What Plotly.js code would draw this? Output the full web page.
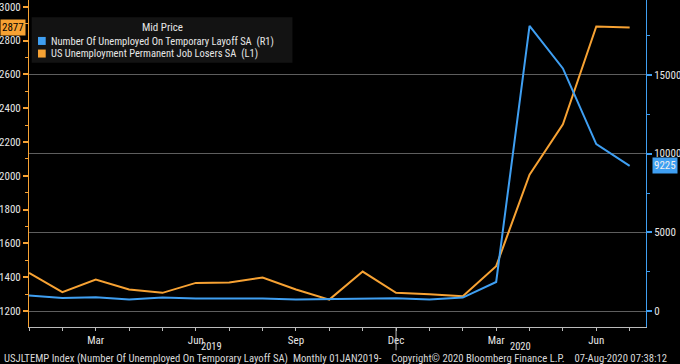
<!DOCTYPE html>
<html><head><meta charset="utf-8">
<script src="https://cdn.plot.ly/plotly-3.0.1.min.js"></script>
<style>html,body{margin:0;padding:0;background:#000;}#chart{width:680px;height:364px;}</style>
</head><body><div id="chart"></div>
<script>
// Data (monthly, Jan 2019 - Jul 2020)
const months = ['2019-01','2019-02','2019-03','2019-04','2019-05','2019-06','2019-07','2019-08','2019-09','2019-10','2019-11','2019-12',
                '2020-01','2020-02','2020-03','2020-04','2020-05','2020-06','2020-07'];
const monthLabels = ['','','Mar','','','Jun','','','Sep','','','Dec','','','Mar','','','Jun',''];
// Number of unemployed on temporary layoff SA (thousands) - right axis
const tempLayoff = [996,844,888,742,868,804,804,804,742,761,780,825,742,868,1860,18100,15400,10600,9225];
// US unemployment permanent job losers SA (thousands) - left axis
const permLosers = [1425,1311,1386,1327,1307,1366,1368,1398,1327,1267,1433,1307,1299,1287,1465,2006,2305,2883,2877];
const leftTicks = [1200,1400,1600,1800,2000,2200,2400,2600,2800,3000];
const rightTicks = [0,5000,10000,15000];
const rightTickText = ['0','5000','10000','15000'];
const seriesNames = ['Number Of Unemployed On Temporary Layoff SA  (R1)','US Unemployment Permanent Job Losers SA  (L1)'];

const BLUE = '#3f9ff2', ORANGE = '#f7a233', TXT = '#e6e6e6';
const FONT = '"Liberation Sans Narrow", "Roboto Condensed", Roboto, "DejaVu Sans", sans-serif';

const traces = [
  {x: months, y: tempLayoff, yaxis: 'y2', type: 'scatter', mode: 'lines', line: {color: BLUE, width: 2}, name: seriesNames[0], showlegend: false, hoverinfo: 'skip'},
  {x: months, y: permLosers, yaxis: 'y', type: 'scatter', mode: 'lines', line: {color: ORANGE, width: 2}, name: seriesNames[1], showlegend: false, hoverinfo: 'skip'}
];

const lastL = permLosers[permLosers.length-1];
const lastR = tempLayoff[tempLayoff.length-1];

const layout = {
  width: 680, height: 364,
  paper_bgcolor: '#000', plot_bgcolor: '#000',
  margin: {l: 29, r: 34, t: 0, b: 37},
  font: {family: FONT, size: 11, color: TXT},
  showlegend: false,
  xaxis: {
    type: 'category', range: [0, 18.49],
    tickmode: 'array', tickvals: months, ticktext: monthLabels,
    ticks: 'outside', ticklen: 3, tickcolor: '#bbbbbb',
    showline: true, linecolor: '#bbbbbb', linewidth: 1,
    showgrid: false, zeroline: false,
    tickfont: {family: FONT, size: 11, color: TXT}
  },
  yaxis: {
    range: [1105, 3040], side: 'left',
    tickmode: 'array', tickvals: leftTicks,
    ticks: 'outside', ticklen: 5, tickwidth: 2, tickcolor: ORANGE,
    minor: {dtick: 100, ticks: 'outside', ticklen: 3, tickcolor: ORANGE, tickwidth: 1, showgrid: false},
    showline: true, linecolor: ORANGE, linewidth: 1,
    showgrid: false, zeroline: false,
    tickfont: {family: FONT, size: 11, color: TXT}
  },
  yaxis2: {
    range: [-996, 19740], side: 'right', overlaying: 'y',
    tickmode: 'array', tickvals: rightTicks, ticktext: rightTickText,
    ticks: 'outside', ticklen: 5, tickwidth: 2, tickcolor: BLUE,
    minor: {dtick: 2500, ticks: 'outside', ticklen: 3, tickcolor: BLUE, tickwidth: 1, showgrid: false},
    showline: true, linecolor: BLUE, linewidth: 1,
    showgrid: true, gridcolor: '#5e5e5e', gridwidth: 1, zeroline: false,
    tickfont: {family: FONT, size: 11, color: TXT}
  },
  annotations: [
    // legend
    {xref: 'paper', yref: 'paper', x: 0.217, y: 0.9158, text: 'Mid Price', showarrow: false, xanchor: 'center', yanchor: 'middle',
     font: {family: FONT, size: 11, color: TXT}},
    {xref: 'paper', yref: 'paper', x: 0.0325, y: 0.8745, text: seriesNames[0], showarrow: false, xanchor: 'left', yanchor: 'middle',
     font: {family: FONT, size: 10.5, color: TXT}},
    {xref: 'paper', yref: 'paper', x: 0.0325, y: 0.836, text: seriesNames[1], showarrow: false, xanchor: 'left', yanchor: 'middle',
     font: {family: FONT, size: 10.5, color: TXT}},
    // last value tags
    {xref: 'paper', yref: 'y', x: -0.0256, y: lastL, text: String(lastL), showarrow: false,
     bgcolor: ORANGE, font: {family: FONT, size: 11, color: '#000'}, borderpad: 1, xanchor: 'center', yanchor: 'middle'},
    {xref: 'paper', yref: 'y2', x: 1.0315, y: lastR, text: String(lastR), showarrow: false,
     bgcolor: BLUE, font: {family: FONT, size: 11, color: '#f0f0f0'}, borderpad: 1, xanchor: 'center', yanchor: 'middle'},
    // years
    {xref: 'x', yref: 'paper', x: 5.47, y: -0.059, text: '2019', showarrow: false, yanchor: 'middle',
     font: {family: FONT, size: 10.5, color: TXT}},
    {xref: 'x', yref: 'paper', x: 14.73, y: -0.059, text: '2020', showarrow: false, yanchor: 'middle',
     font: {family: FONT, size: 10.5, color: TXT}},
    // footer
    {xref: 'paper', yref: 'paper', x: -0.0443, y: -0.096, xanchor: 'left', yanchor: 'middle', showarrow: false,
     text: 'USJLTEMP Index (Number Of Unemployed On Temporary Layoff SA)  Monthly 01JAN2019-    Copyright\u00a9 2020 Bloomberg Finance L.P.    07-Aug-2020 07:38:12',
     font: {family: FONT, size: 10.7, color: '#d8d8d8'}}
  ],
  shapes: [
    {type: 'rect', xref: 'paper', yref: 'paper', x0: 0.0044, x1: 0.427, y0: 0.808, y1: 0.947, fillcolor: '#131313', line: {width: 0}, layer: 'above'},
    {type: 'rect', xref: 'paper', yref: 'paper', x0: 0.0146, x1: 0.0271, y0: 0.8625, y1: 0.8870, fillcolor: BLUE, line: {width: 0}, layer: 'above'},
    {type: 'rect', xref: 'paper', yref: 'paper', x0: 0.0146, x1: 0.0271, y0: 0.8240, y1: 0.8485, fillcolor: ORANGE, line: {width: 0}, layer: 'above'},
    {type: 'line', xref: 'x', yref: 'paper', x0: months[11], x1: months[11], y0: 0, y1: -0.071, line: {color: '#bbbbbb', width: 1}}
  ]
};

Plotly.newPlot('chart', traces, layout, {staticPlot: true, displayModeBar: false});
</script></body></html>
